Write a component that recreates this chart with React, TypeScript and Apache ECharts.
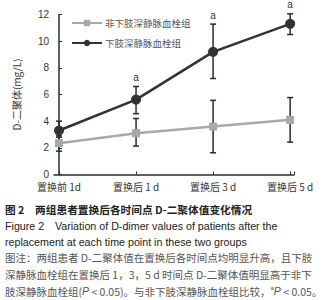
import React, { useEffect, useRef } from "react";
import * as echarts from "echarts";

const categories = ["置换前 1d", "置换后 1 d", "置换后 3 d", "置换后 5 d"];
const yTicks = [0, 2, 4, 6, 8, 10, 12];
const seriesNames = ["非下肢深静脉血栓组", "下肢深静脉血栓组"];
const nonDvtMean = [2.35, 3.1, 3.6, 4.1];
const nonDvtLow = [1.75, 2.13, 1.63, 2.43];
const nonDvtHigh = [2.9, 4.2, 5.56, 5.77];
const dvtMean = [3.3, 5.62, 9.2, 11.3];
const dvtLow = [2.8, 4.56, 7.2, 10.5];
const dvtHigh = [4.0, 6.6, 11.28, 12.05];
const sigMarks = ["", "a", "a", "a"];

const captionTitle = "图 2　两组患者置换后各时间点 D-二聚体值变化情况";
const captionEn1 = "Figure 2　Variation of D-dimer values of patients after the";
const captionEn2 = "replacement at each time point in these two groups";
const noteLine1 = "图注：两组患者 D-二聚体值在置换后各时间点均明显升高，且下肢";
const noteLine2 = "深静脉血栓组在置换后 1，3，5 d 时间点 D-二聚体值明显高于非下";

const CJK = '"Noto Sans CJK SC", "Liberation Sans", sans-serif';
const SANS = '"Liberation Sans", Arial, "Noto Sans CJK SC", sans-serif';

export default function App() {
  const ref = useRef<HTMLDivElement>(null);
  useEffect(() => {
    if (!ref.current) return;
    const chart = echarts.init(ref.current, null, { renderer: "svg" });
    const xIdx = categories.map((_, i) => i);
    const errData = (lo: number[], hi: number[]) => xIdx.map((i) => [i, lo[i], hi[i]]);
    const makeErr = (lo: number[], hi: number[], marks: string[] | null) => ({
      type: "custom",
      clip: false,
      z: 1,
      silent: true,
      data: errData(lo, hi),
      renderItem: (params: any, api: any) => {
        const x = api.value(0);
        const pHi = api.coord([x, api.value(2)]);
        const pLo = api.coord([x, api.value(1)]);
        const h = 3;
        const st = { stroke: "#2b2b2b", lineWidth: 1.5 };
        const children: any[] = [
          { type: "line", shape: { x1: pHi[0], y1: pHi[1], x2: pLo[0], y2: pLo[1] }, style: st },
          { type: "line", shape: { x1: pHi[0] - h, y1: pHi[1], x2: pHi[0] + h, y2: pHi[1] }, style: st },
          { type: "line", shape: { x1: pLo[0] - h, y1: pLo[1], x2: pLo[0] + h, y2: pLo[1] }, style: st },
        ];
        const m = marks ? marks[params.dataIndex] : "";
        if (m) {
          children.push({
            type: "text",
            style: {
              text: m,
              x: pHi[0],
              y: pHi[1] - 9,
              align: "center",
              verticalAlign: "middle",
              fontSize: 10,
              fontFamily: SANS,
              fill: "#333",
            },
          });
        }
        return { type: "group", children };
      },
    });

    const noteStyle = { fontSize: 10.5, fontFamily: CJK, fill: "#555" };
    chart.setOption({
      animation: false,
      backgroundColor: "#fff",
      grid: { left: 54, right: 32, top: 14.5, bottom: 125.5 },
      legend: {
        orient: "vertical",
        left: 66,
        top: 12,
        itemWidth: 30,
        itemHeight: 8,
        itemGap: 8,
        data: seriesNames,
        textStyle: { fontSize: 9.5, fontFamily: CJK, color: "#555", lineHeight: 12, padding: [0, 0, 0, -2] },
      },
      xAxis: {
        type: "value",
        min: -0.065,
        max: 3.05,
        splitLine: { show: false },
        axisLine: { lineStyle: { color: "#2b2b2b", width: 1.5 } },
        axisTick: { inside: true, length: 3, customValues: [...xIdx, 3.05], lineStyle: { color: "#2b2b2b" } },
        axisLabel: {
          customValues: xIdx,
          formatter: (v: number) => categories[Math.round(v)],
          fontSize: 10,
          fontFamily: CJK,
          color: "#333",
          margin: 7,
        },
      },
      yAxis: {
        type: "value",
        min: 0,
        max: 12,
        interval: 2,
        name: "D-二聚体(mg/L)",
        nameLocation: "middle",
        nameRotate: 90,
        nameGap: 33,
        nameTextStyle: { fontSize: 10, fontFamily: CJK, color: "#333" },
        splitLine: { show: false },
        axisLine: { show: true, lineStyle: { color: "#2b2b2b", width: 1.5 } },
        axisTick: { show: true, inside: true, length: 3, lineStyle: { color: "#2b2b2b" } },
        axisLabel: { fontSize: 10, fontFamily: SANS, color: "#333", margin: 5, customValues: yTicks },
      },
      series: [
        makeErr(nonDvtLow, nonDvtHigh, null),
        makeErr(dvtLow, dvtHigh, sigMarks),
        {
          name: seriesNames[0],
          type: "line",
          z: 3,
          data: xIdx.map((i) => [i, nonDvtMean[i]]),
          symbol: "rect",
          symbolSize: 8,
          itemStyle: { color: "#a8a8a8" },
          lineStyle: { color: "#a8a8a8", width: 2.5 },
        },
        {
          name: seriesNames[1],
          type: "line",
          z: 4,
          data: xIdx.map((i) => [i, dvtMean[i]]),
          symbol: "circle",
          symbolSize: 10,
          itemStyle: { color: "#333" },
          lineStyle: { color: "#333", width: 2.5 },
        },
      ],
      graphic: [
        {
          type: "text",
          left: 5,
          top: 204,
          style: { text: captionTitle, fontSize: 10.7, fontWeight: "bold", fontFamily: CJK, fill: "#222" },
        },
        {
          type: "text",
          left: 5,
          top: 221,
          style: { text: captionEn1, fontSize: 10.7, fontFamily: SANS, fill: "#222" },
        },
        {
          type: "text",
          left: 5,
          top: 237,
          style: { text: captionEn2, fontSize: 10.7, fontFamily: SANS, fill: "#222" },
        },
        { type: "text", left: 5, top: 252, style: { text: noteLine1, ...noteStyle } },
        { type: "text", left: 5, top: 269, style: { text: noteLine2, ...noteStyle } },
        {
          type: "text",
          left: 5,
          top: 285,
          style: {
            text: "肢深静脉血栓组({i|P} < 0.05)。与非下肢深静脉血栓组比较，{s|a}{i|P} < 0.05。",
            ...noteStyle,
            rich: {
              i: { fontStyle: "italic", fontSize: 10.5, fontFamily: SANS, fill: "#555" },
              s: { fontSize: 6, fontFamily: SANS, fill: "#555", verticalAlign: "top", padding: [0, 0, 6, 0] },
            },
          },
        },
      ],
    });
    return () => chart.dispose();
  }, []);
  return <div ref={ref} style={{ position: "fixed", left: 0, top: 0, width: 326, height: 300 }} />;
}
